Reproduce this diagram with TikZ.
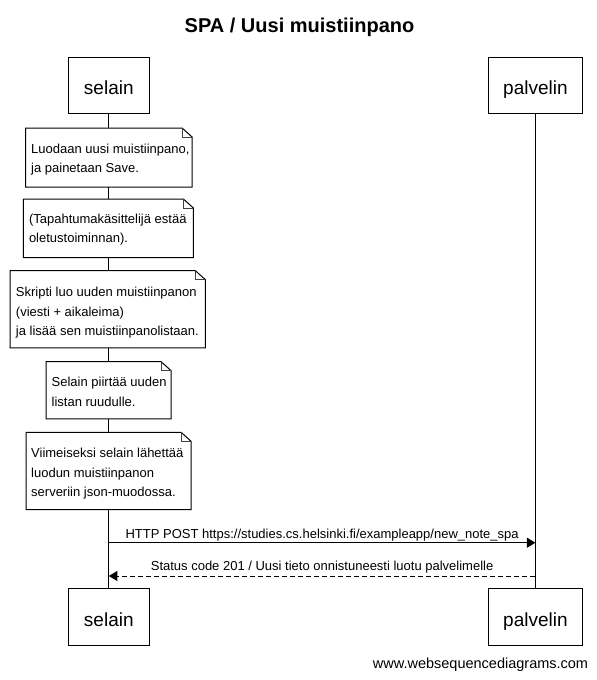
\documentclass[tikz,border=0pt]{standalone}
\usepackage{fontspec}
\setmainfont{Liberation Sans}
\usetikzlibrary{arrows.meta,calc}
\pgfdeclarelayer{background}
\pgfsetlayers{background,main}
\begin{document}
\begin{tikzpicture}[x=1pt,y=-1pt,
  actor/.style={draw, line width=1pt, inner sep=0pt, minimum height=56pt,
    font=\fontsize{19}{23}\selectfont, text height=18.8pt, text depth=0pt},
  notebox/.style={fill=white, inner sep=0pt, anchor=north west},
  notetext/.style={anchor=north west, inner sep=0pt, align=left,
    font=\fontsize{13}{19.3}\selectfont},
  notedge/.style={line width=1pt},
  notefold/.style={line width=0.7pt, draw=black!75},
  lifeline/.style={line width=1pt},
  msg/.style={line width=1pt, -{Triangle[length=8.5pt,width=10pt]}},
  reply/.style={msg, dash pattern=on 5pt off 3pt},
  lbl/.style={font=\fontsize{13}{16}\selectfont, anchor=base, inner sep=0pt},
]
\useasboundingbox (0,0) rectangle (597,680);

% title
\node[anchor=base, inner sep=0pt, font=\fontsize{20}{24}\selectfont\bfseries] (title) at (299.5,32.3) {SPA / Uusi muistiinpano};

% participants
\node[actor, minimum width=81pt] (hs) at (108.8,85.3) {selain};
\node[actor, minimum width=94pt] (hp) at (535.4,85.3) {palvelin};
\node[actor, minimum width=81pt, minimum height=56.7pt] (ts) at (108.8,617.3) {selain};
\node[actor, minimum width=94pt, minimum height=56.7pt] (tp) at (535.4,617.3) {palvelin};

% notes
\node[notebox, minimum width=166pt,   minimum height=58.7pt] (n1) at (25.7,128) {};
\node[notebox, minimum width=169.7pt, minimum height=58.3pt] (n2) at (23.3,199) {};
\node[notebox, minimum width=195pt,   minimum height=76.7pt] (n3) at (10,270.7) {};
\node[notebox, minimum width=124.7pt, minimum height=56.7pt] (n4) at (46,361.7) {};
\node[notebox, minimum width=164.7pt, minimum height=77pt]   (n5) at (26,432.3) {};

\foreach \n in {n1,n2,n3,n4,n5}{
  \draw[notedge] (\n.north west) -- ([xshift=-10pt]\n.north east)
    -- ([yshift=-9pt]\n.north east) -- (\n.south east) -- (\n.south west) -- cycle;
  \draw[notefold] ([xshift=-10pt]\n.north east) |- ([yshift=-9pt]\n.north east);
}

\node[notetext] (t1) at (31,139.3) {\rule{0pt}{14pt}Luodaan uusi muistiinpano,\\ja painetaan Save.};
\node[notetext] (t2) at (28.8,209.3) {\rule{0pt}{14pt}(Tapahtumakäsittelijä estää\\oletustoiminnan).};
\node[notetext] (t3) at (15.8,282.7) {\rule{0pt}{14pt}Skripti luo uuden muistiinpanon\\(viesti + aikaleima)\\ja lisää sen muistiinpanolistaan.};
\node[notetext] (t4) at (51.5,372.7) {\rule{0pt}{14pt}Selain piirtää uuden\\listan ruudulle.};
\node[notetext] (t5) at (31,443.7) {\rule{0pt}{14pt}Viimeiseksi selain lähettää\\luodun muistiinpanon\\serveriin json-muodossa.};

% messages
\coordinate (m1) at (0,542.7);
\coordinate (m2) at (0,576);
\draw[msg] (hs |- m1) -- node[lbl, yshift=4.3pt] (l1) {HTTP POST https://studies.cs.helsinki.fi/exampleapp/new\_note\_spa} (hp |- m1);
\draw[reply] (hp |- m2) -- node[lbl, yshift=5.3pt] (l2) {Status code 201 / Uusi tieto onnistuneesti luotu palvelimelle} (hs |- m2);

% footer
\node[anchor=base east, inner sep=0pt, font=\fontsize{14.5}{17}\selectfont] (foot) at (588.3,668.3) {www.websequencediagrams.com};

% lifelines
\begin{pgfonlayer}{background}
\draw[lifeline] (hs.south) -- (ts.north);
\draw[lifeline] (hp.south) -- (tp.north);
\end{pgfonlayer}
\end{tikzpicture}
\end{document}
